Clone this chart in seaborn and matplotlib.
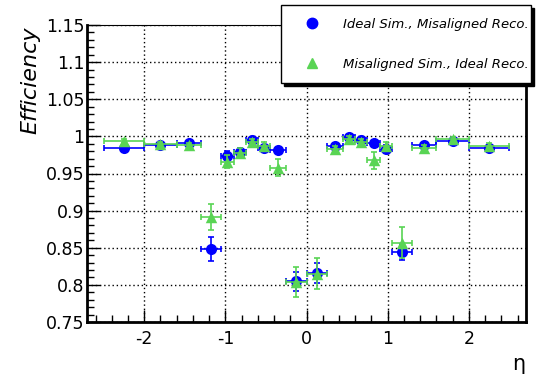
import numpy as np
import pandas as pd
import matplotlib
matplotlib.use("Agg")
import matplotlib.pyplot as plt
from matplotlib.lines import Line2D
from matplotlib.ticker import MultipleLocator
import seaborn as sns

# ---------------- data ----------------
eta = [-2.25, -1.8, -1.45, -1.175, -0.975, -0.825, -0.675, -0.525, -0.35, -0.125,
       0.125, 0.35, 0.525, 0.675, 0.825, 0.975, 1.175, 1.45, 1.8, 2.25]
eta_err = [0.25, 0.2, 0.15, 0.125, 0.075, 0.075, 0.075, 0.075, 0.1, 0.125,
           0.125, 0.1, 0.075, 0.075, 0.075, 0.075, 0.125, 0.15, 0.2, 0.25]

eff_ideal_sim = [0.984, 0.988, 0.991, 0.848, 0.974, 0.979, 0.995, 0.985, 0.982, 0.805,
                 0.816, 0.987, 0.9995, 0.995, 0.9915, 0.983, 0.844, 0.988, 0.994, 0.984]
err_ideal_sim = [0.004, 0.003, 0.003, 0.016, 0.006, 0.005, 0.003, 0.004, 0.004, 0.013,
                 0.014, 0.004, 0.002, 0.003, 0.003, 0.005, 0.011, 0.003, 0.002, 0.003]

eff_mis_sim = [0.994, 0.990, 0.988, 0.892, 0.966, 0.978, 0.993, 0.987, 0.958, 0.804,
               0.815, 0.983, 0.997, 0.992, 0.968, 0.987, 0.857, 0.985, 0.996, 0.9875]
err_mis_sim = [0.003, 0.003, 0.003, 0.0175, 0.009, 0.006, 0.004, 0.006, 0.011, 0.020,
               0.021, 0.004, 0.003, 0.004, 0.0115, 0.006, 0.021, 0.003, 0.003, 0.003]

series_labels = ["Ideal Sim., Misaligned Reco.", "Misaligned Sim., Ideal Reco."]
x_ticks = [-2, -1, 0, 1, 2]
y_ticks = [0.75, 0.8, 0.85, 0.9, 0.95, 1.0, 1.05, 1.1, 1.15]
y_tick_labels = ["0.75", "0.8", "0.85", "0.9", "0.95", "1", "1.05", "1.1", "1.15"]

# ---------------- style ----------------
sns.set_style("white")
plt.rcParams["font.family"] = ["DejaVu Sans"]
plt.rcParams["text.color"] = "black"
plt.rcParams["axes.labelcolor"] = "black"
plt.rcParams["xtick.color"] = "black"
plt.rcParams["ytick.color"] = "black"
plt.rcParams["xtick.labelcolor"] = "black"
plt.rcParams["ytick.labelcolor"] = "black"

BLUE = "#0000ff"
GREEN = "#59d454"

fig = plt.figure(figsize=(5.37, 3.78), dpi=100)
W, H = 537, 378
ax = fig.add_axes([87 / W, 1 - 322 / H, (525.7 - 87) / W, (322 - 25) / H])

df_a = pd.DataFrame({"eta": eta, "eff": eff_ideal_sim, "series": series_labels[0]})
df_b = pd.DataFrame({"eta": eta, "eff": eff_mis_sim, "series": series_labels[1]})

# blue series
ax.errorbar(eta, eff_ideal_sim, xerr=eta_err, yerr=err_ideal_sim, fmt="none",
            ecolor=BLUE, elinewidth=1.2, capsize=2, capthick=1.2, zorder=3)
sns.scatterplot(data=df_a, x="eta", y="eff", color=BLUE, marker="o", s=64,
                edgecolor=BLUE, linewidth=0, ax=ax, legend=False, zorder=4)
# green series
ax.errorbar(eta, eff_mis_sim, xerr=eta_err, yerr=err_mis_sim, fmt="none",
            ecolor=GREEN, elinewidth=1.2, capsize=2, capthick=1.2, zorder=5)
sns.scatterplot(data=df_b, x="eta", y="eff", color=GREEN, marker="^", s=68,
                edgecolor=GREEN, linewidth=0, ax=ax, legend=False, zorder=6)

ax.set_xlim(-2.705, 2.70)
ax.set_ylim(0.75, 1.15)
ax.set_xticks(x_ticks)
ax.set_xticklabels([str(t) for t in x_ticks])
ax.set_yticks(y_ticks)
ax.set_yticklabels(y_tick_labels)
ax.xaxis.set_minor_locator(MultipleLocator(0.2))
ax.yaxis.set_minor_locator(MultipleLocator(0.01))

ax.grid(True, which="major", color="black", linestyle=(0, (1, 2)), linewidth=1.0)
ax.set_axisbelow(True)

ax.tick_params(axis="both", which="major", direction="in", length=9, width=1.0,
               labelsize=12.5, color="black", labelcolor="black")
ax.tick_params(axis="both", which="minor", direction="in", length=5, width=1.0,
               color="black")
ax.tick_params(axis="y", which="both", left=True, right=False, pad=2)
ax.tick_params(axis="x", which="both", bottom=True, top=False, pad=6)

for side in ["left", "bottom", "right"]:
    ax.spines[side].set_visible(True)
    ax.spines[side].set_color("black")
    ax.spines[side].set_linewidth(2.0)
ax.spines["top"].set_visible(True)
ax.spines["top"].set_color("black")
ax.spines["top"].set_linewidth(0.8)

ax.set_xlabel("")
ax.set_ylabel("")
fig.text(30 / W, 1 - 27 / H, "Efficiency", rotation=90, fontsize=16,
         fontstyle="italic", ha="center", va="top", color="black")
fig.text(525.5 / W, 1 - 374 / H, "η", fontsize=15, ha="right", va="bottom",
         color="black")

handles = [
    Line2D([], [], linestyle="none", marker="o", color=BLUE, markersize=7.5),
    Line2D([], [], linestyle="none", marker="^", color=GREEN, markersize=7.5),
]
leg = fig.legend(handles, series_labels, loc="upper left",
                 bbox_to_anchor=(281 / W, 1 - 84 / H, 250 / W, 79 / H),
                 mode="expand", frameon=True, fancybox=False,
                 shadow={"color": "black", "alpha": 1.0, "ox": 1.8, "oy": -1.8},
                 prop={"size": 9.5, "style": "italic"},
                 borderpad=0.95, labelspacing=2.05, handlelength=2.8,
                 handletextpad=0.95, numpoints=1, borderaxespad=0)
for t in leg.get_texts():
    t.set_color("black")
leg.get_frame().set_edgecolor("black")
leg.get_frame().set_linewidth(1.0)
leg.get_frame().set_facecolor("white")
leg.get_frame().set_alpha(1.0)

fig.savefig("out.png", dpi=100)
